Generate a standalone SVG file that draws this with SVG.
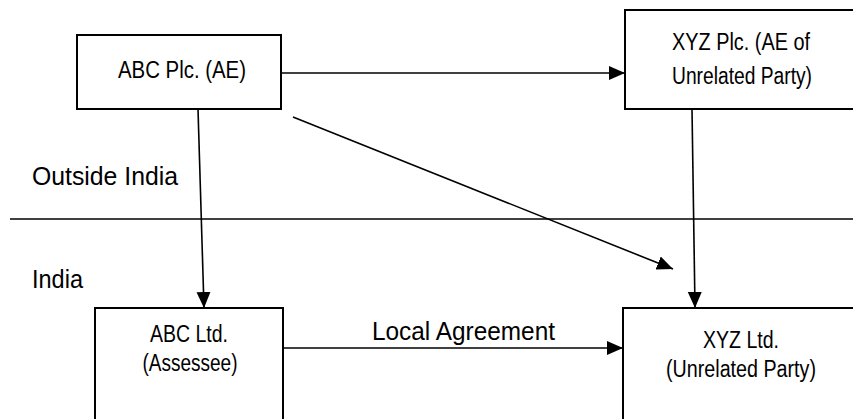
<svg xmlns="http://www.w3.org/2000/svg" width="853" height="419" viewBox="0 0 853 419">
<style>
.box{fill:#fff;stroke:#000;stroke-width:2}
.t{font-family:"Liberation Sans",Arial,sans-serif;font-size:23px;fill:#000;text-anchor:middle}
.lbl{font-family:"Liberation Sans",Arial,sans-serif;font-size:26px;fill:#000}
.c{stroke:#000;stroke-width:1.6;fill:none}
</style>
<defs>
<marker id="ah" markerUnits="userSpaceOnUse" markerWidth="17" markerHeight="16" refX="16" refY="8" orient="auto">
<path d="M0,1 L16,8 L0,15 Z" fill="#000"/>
</marker>
</defs>
<rect width="853" height="419" fill="#fff"/>
<line x1="10" y1="219" x2="853" y2="219" stroke="#000" stroke-width="1.6"/>
<text class="lbl" x="32" y="185" textLength="146" lengthAdjust="spacingAndGlyphs">Outside India</text>
<text class="lbl" x="32" y="288" textLength="51" lengthAdjust="spacingAndGlyphs">India</text>
<g id="connectors">
<line class="c" x1="281" y1="73" x2="625" y2="73" marker-end="url(#ah)"/>
<line class="c" x1="198" y1="109" x2="204" y2="308" marker-end="url(#ah)"/>
<line class="c" x1="692" y1="109" x2="695" y2="308" marker-end="url(#ah)"/>
<line class="c" x1="293" y1="117" x2="673" y2="269" marker-end="url(#ah)"/>
<line class="c" x1="283" y1="348" x2="623" y2="348" marker-end="url(#ah)"/>
<text class="lbl" x="372" y="340" textLength="183" lengthAdjust="spacingAndGlyphs">Local Agreement</text>
</g>
<g id="abc-plc">
<rect class="box" x="77" y="35" width="204" height="74"/>
<text class="t" x="182" y="78" textLength="128" lengthAdjust="spacingAndGlyphs">ABC Plc. (AE)</text>
</g>
<g id="xyz-plc">
<rect class="box" x="625" y="10" width="240" height="99"/>
<text class="t" x="741" y="50" textLength="138" lengthAdjust="spacingAndGlyphs">XYZ Plc. (AE of</text>
<text class="t" x="742" y="84" textLength="140" lengthAdjust="spacingAndGlyphs">Unrelated Party)</text>
</g>
<g id="abc-ltd">
<rect class="box" x="95" y="308" width="188" height="130"/>
<text class="t" x="189" y="342" textLength="78" lengthAdjust="spacingAndGlyphs">ABC Ltd.</text>
<text class="t" x="190" y="371" textLength="95" lengthAdjust="spacingAndGlyphs">(Assessee)</text>
</g>
<g id="xyz-ltd">
<rect class="box" x="623" y="308" width="250" height="130"/>
<text class="t" x="741" y="348" textLength="76" lengthAdjust="spacingAndGlyphs">XYZ Ltd.</text>
<text class="t" x="741" y="377" textLength="150" lengthAdjust="spacingAndGlyphs">(Unrelated Party)</text>
</g>
</svg>
